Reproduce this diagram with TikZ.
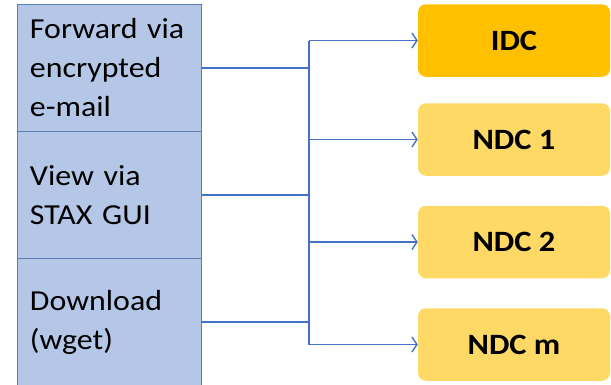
\documentclass[tikz,border=0pt]{standalone}
\usepackage{fontspec}
\setmainfont{Carlito}[FakeStretch=1.1]
\usetikzlibrary{positioning, arrows.meta}
\definecolor{chanFill}{HTML}{B4C7E7}
\definecolor{chanB}{HTML}{5B7DB5}
\definecolor{linkB}{HTML}{4472C4}
\definecolor{idcFill}{HTML}{FFC000}
\definecolor{ndcFill}{HTML}{FFD966}

\begin{document}
\begin{tikzpicture}[x=1pt, y=-1pt, chan/.style={draw=chanB, fill=chanFill, line width=1pt, outer sep=0pt, minimum width=184pt, minimum height=127pt, inner xsep=12.5pt, text width=159pt, align=left, font=\fontsize{29}{39}\selectfont}, dc/.style={rounded corners=8pt, minimum width=192pt, minimum height=72.5pt, font=\fontsize{29.5}{35}\selectfont\bfseries}, link/.style={draw=linkB, line width=1.4pt}]
\useasboundingbox (0,0) rectangle (611,384);
\clip (0,0) rectangle (611,384);
% delivery channels
\node[chan] (fwd) at (109.5,68) {Forward~via\\encrypted\\e-mail};
\node[chan, below=0pt of fwd] (view) {View~via\\STAX~GUI};
\node[chan, below=0pt of view] (dl) {Download\\(wget)};
% data centres
\node[dc, fill=idcFill] (idc) at (514,40.5) {IDC};
\node[dc, fill=ndcFill] (ndc1) at (514,139.5) {NDC 1};
\node[dc, fill=ndcFill] (ndc2) at (514,242) {NDC 2};
\node[dc, fill=ndcFill] (ndcm) at (514,344.5) {NDC m};
\coordinate (bus) at (309,0);
\foreach \n in {fwd,view,dl} \draw[link] (\n.east) -- (\n.east -| bus);
\draw[link] (bus |- idc.west) -- (bus |- ndcm.west);
\foreach \n in {idc,ndc1,ndc2,ndcm} \draw[link, -{Straight Barb[length=5pt, width=15pt]}] (bus |- \n.west) -- (\n.west);
\end{tikzpicture}
\end{document}
